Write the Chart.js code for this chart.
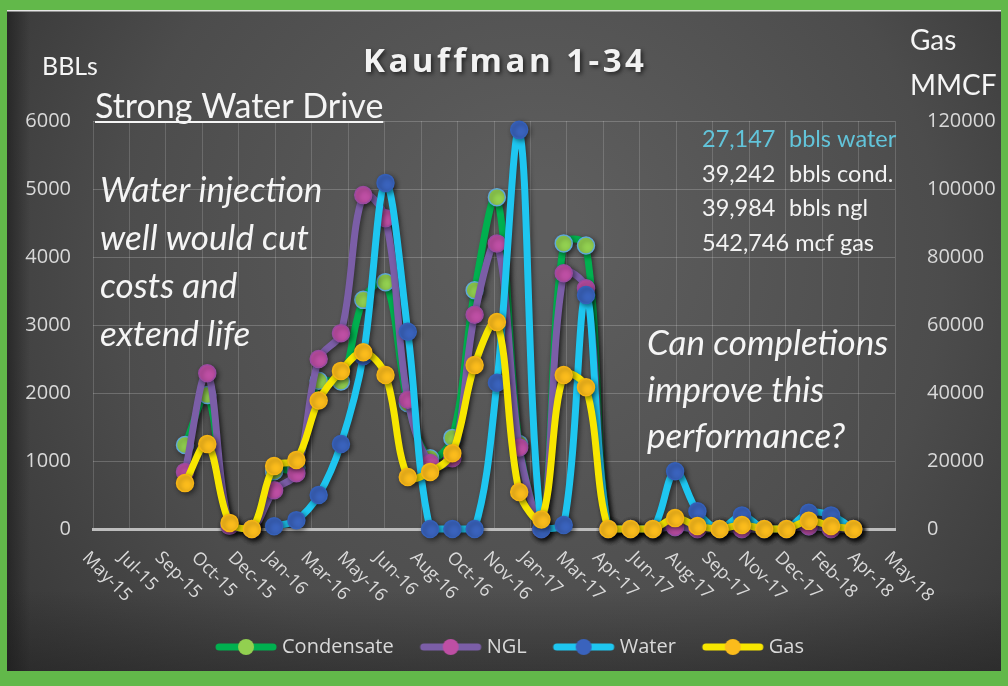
<!DOCTYPE html>
<html>
<head>
<meta charset="utf-8">
<title>Kauffman 1-34</title>
<script src="https://cdn.jsdelivr.net/npm/chart.js@4.4.1/dist/chart.umd.min.js"></script>
<style>
  html, body { margin: 0; padding: 0; background: #62b84a; }
  #wrap { position: relative; width: 1008px; height: 686px; }
</style>
</head>
<body>
<div id="wrap"><canvas id="prodChart" width="1008" height="686"></canvas></div>
<script>
// ===================
// Data (monthly, Sep-15 .. Mar-18)
// ===================
const firstMonth = 4; // months after May-15
const condensate = [1235, 1970, 50, 0, 850, 900, 2180, 2170, 3370, 3630, 1850, 1040, 1340, 3510, 4880, 1250, 0, 4200, 4170, 0, 0, 0, 30, 0, 0, 0, 0, 0, 40, 0, 0];
const ngl = [840, 2290, 50, 0, 570, 820, 2500, 2880, 4910, 4570, 1900, 970, 1040, 3150, 4200, 1200, 0, 3760, 3540, 0, 0, 0, 30, 0, 0, 0, 0, 0, 40, 0, 0];
const water = [null, null, null, null, 40, 130, 500, 1250, 2540, 5090, 2900, 0, 0, 0, 2150, 5870, 0, 60, 3440, 0, 0, 0, 850, 260, 0, 200, 0, 0, 240, 200, 0];
const gas = [13500, 25000, 1800, 0, 18500, 20300, 37800, 46500, 52000, 45300, 15300, 16800, 22300, 48200, 60900, 10900, 2800, 45300, 41700, 0, 0, 0, 3200, 900, 0, 1200, 0, 0, 2400, 900, 0];

const xTickLabels = ["May-15", "Jul-15", "Sep-15", "Oct-15", "Dec-15", "Jan-16", "Mar-16", "May-16", "Jun-16", "Aug-16", "Oct-16", "Nov-16", "Jan-17", "Mar-17", "Apr-17", "Jun-17", "Aug-17", "Sep-17", "Nov-17", "Dec-17", "Feb-18", "Apr-18", "May-18"];
const xMin = -0.13;
const xMax = 35.87;

const totals = [
  ["27,147", "bbls water"],
  ["39,242", "bbls cond."],
  ["39,984", "bbls ngl"],
  ["542,746 mcf gas", ""],
];

const toPoints = (arr) => arr.map((v, i) => ({ x: firstMonth + i, y: v }));

// legend marker: line with dot
function legendMarker(lineColor, dotColor) {
  const c = document.createElement("canvas");
  c.width = 64;
  c.height = 20;
  const g = c.getContext("2d");
  g.strokeStyle = lineColor;
  g.lineWidth = 7;
  g.lineCap = "round";
  g.beginPath();
  g.moveTo(5, 10);
  g.lineTo(59, 10);
  g.stroke();
  g.fillStyle = dotColor;
  g.beginPath();
  g.arc(32, 10, 8, 0, Math.PI * 2);
  g.fill();
  return c;
}

// ===================
// Plugins
// ===================
const backgroundPlugin = {
  id: "background",
  beforeDraw(chart) {
    const ctx = chart.ctx;
    ctx.save();
    ctx.fillStyle = "#62b84a";
    ctx.fillRect(0, 0, 1008, 686);
    const g = ctx.createRadialGradient(540, 230, 40, 520, 300, 720);
    g.addColorStop(0, "#5e5e5e");
    g.addColorStop(0.55, "#4c4c4c");
    g.addColorStop(1, "#2e2e2e");
    ctx.fillStyle = g;
    ctx.fillRect(7, 11, 994, 660);
    const lg = ctx.createLinearGradient(7, 0, 30, 0);
    lg.addColorStop(0, "rgba(30,30,30,0.7)");
    lg.addColorStop(1, "rgba(30,30,30,0)");
    ctx.fillStyle = lg;
    ctx.fillRect(7, 11, 23, 660);
    const bg = ctx.createLinearGradient(0, 590, 0, 671);
    bg.addColorStop(0, "rgba(30,30,30,0)");
    bg.addColorStop(1, "rgba(30,30,30,0.45)");
    ctx.fillStyle = bg;
    ctx.fillRect(7, 590, 994, 81);
    ctx.fillStyle = "#e6e6e6";
    ctx.fillRect(7, 10, 994, 1.5);
    ctx.restore();
  },
};

const shadowPlugin = {
  id: "lineShadow",
  beforeDatasetsDraw(chart) {
    const ctx = chart.ctx;
    ctx.save();
    ctx.shadowColor = "rgba(0,0,0,0.45)";
    ctx.shadowBlur = 5;
    ctx.shadowOffsetX = 2;
    ctx.shadowOffsetY = 2;
  },
  afterDatasetsDraw(chart) {
    chart.ctx.restore();
  },
};

const textPlugin = {
  id: "texts",
  afterDraw(chart) {
    const ctx = chart.ctx;
    const xs = chart.scales.x;
    ctx.save();

    // x labels, rotated down-right
    ctx.fillStyle = "#d9d9d9";
    ctx.font = '18px "Open Sans"';
    ctx.textAlign = "left";
    ctx.textBaseline = "middle";
    xs.ticks.forEach((t, i) => {
      const px = xs.getPixelForValue(t.value);
      ctx.save();
      ctx.translate(px - 8, 555);
      ctx.rotate(Math.PI / 4);
      ctx.fillText(xTickLabels[i], 0, 0);
      ctx.restore();
    });

    ctx.textBaseline = "alphabetic";

    // title
    ctx.save();
    ctx.shadowColor = "rgba(0,0,0,0.6)";
    ctx.shadowBlur = 4;
    ctx.shadowOffsetX = 2;
    ctx.shadowOffsetY = 2;
    ctx.fillStyle = "#f2f2f2";
    ctx.font = 'bold 33px "Open Sans"';
    ctx.letterSpacing = "3.5px";
    ctx.fillText("Kauffman 1-34", 363, 72);
    ctx.restore();

    ctx.fillStyle = "#f5f5f5";
    // axis titles
    ctx.font = "25px Lato";
    ctx.fillText("BBLs", 42, 75);
    ctx.font = "28px Lato";
    ctx.fillText("Gas", 910, 50);
    ctx.fillText("MMCF", 910, 95);

    // notes
    ctx.font = "34px Lato";
    ctx.fillText("Strong Water Drive", 95, 118);
    const w = ctx.measureText("Strong Water Drive").width;
    ctx.fillRect(95, 121, w, 2);

    ctx.font = "italic 35px Lato";
    ["Water injection", "well would cut", "costs and", "extend life"].forEach((s, i) => {
      ctx.fillText(s, 100, 202 + i * 48);
    });
    ["Can completions", "improve this", "performance?"].forEach((s, i) => {
      ctx.fillText(s, 647, 355 + i * 46.5);
    });

    // totals
    ctx.font = "23.5px Lato";
    totals.forEach((row, i) => {
      ctx.fillStyle = i === 0 ? "#62c4da" : "#f2f2f2";
      const y = 147 + i * 34.5;
      ctx.fillText(row[0], 702, y);
      if (row[1]) ctx.fillText(row[1], 789, y);
    });

    ctx.restore();
  },
};

// ===================
// Chart
// ===================
const series = [
  { label: "Condensate", data: condensate, line: "#00b04f", dot: "#92d050", dotBorder: "#5fa8d8", axis: "y", order: 4 },
  { label: "NGL", data: ngl, line: "#7b5ea7", dot: "#be4fa4", dotBorder: "#9a4aa0", axis: "y", order: 3 },
  { label: "Water", data: water, line: "#1ec6f0", dot: "#3a63bd", dotBorder: "#3560b8", axis: "y", order: 2 },
  { label: "Gas", data: gas, line: "#f7e600", dot: "#fbbc1c", dotBorder: "#f5b414", axis: "y1", order: 1 },
];

new Chart(document.getElementById("prodChart"), {
  type: "line",
  data: {
    datasets: series.map((s) => ({
      label: s.label,
      data: toPoints(s.data),
      yAxisID: s.axis,
      order: s.order,
      borderColor: s.line,
      borderWidth: 7,
      tension: 0.35,
      pointRadius: 8.5,
      pointBackgroundColor: s.dot,
      pointBorderColor: s.dotBorder,
      pointBorderWidth: 1.5,
      clip: false,
      fill: false,
    })),
  },
  options: {
    responsive: false,
    animation: false,
    layout: { padding: { top: 121, bottom: 19, left: 16, right: 0 } },
    scales: {
      x: {
        type: "linear",
        min: xMin,
        max: xMax,
        afterBuildTicks: (scale) => {
          const n = xTickLabels.length;
          scale.ticks = xTickLabels.map((label, i) => ({
            value: xMin + (i * (xMax - xMin)) / (n - 1),
          }));
        },
        afterFit: (scale) => {
          scale.height = 77;
        },
        ticks: { display: false },
        grid: { color: "rgba(255,255,255,0.16)", drawTicks: false },
        border: { display: true, color: "#bdbdbd", width: 3 },
      },
      y: {
        position: "left",
        min: 0,
        max: 6000,
        afterFit: (scale) => {
          scale.width = 77;
        },
        ticks: {
          stepSize: 1000,
          padding: 22,
          color: "#d9d9d9",
          font: { family: "Open Sans", size: 20 },
          callback: (v) => String(v),
        },
        grid: { color: "rgba(255,255,255,0.2)", drawTicks: false },
        border: { display: false },
      },
      y1: {
        position: "right",
        min: 0,
        max: 120000,
        afterFit: (scale) => {
          scale.width = 113;
        },
        ticks: {
          stepSize: 20000,
          padding: 24,
          color: "#d9d9d9",
          font: { family: "Open Sans", size: 20 },
          callback: (v) => String(v),
        },
        grid: { display: false },
        border: { display: false },
      },
    },
    plugins: {
      title: { display: false },
      tooltip: { enabled: false },
      legend: {
        position: "bottom",
        labels: {
          color: "#d9d9d9",
          font: { family: "Open Sans", size: 20 },
          usePointStyle: true,
          pointStyleWidth: 52,
          padding: 31,
          generateLabels: (chart) =>
            chart.data.datasets.map((ds, i) => ({
              text: ds.label,
              pointStyle: legendMarker(ds.borderColor, ds.pointBackgroundColor),
              fillStyle: ds.pointBackgroundColor,
              strokeStyle: ds.borderColor,
              lineWidth: 0,
              fontColor: "#d9d9d9",
              hidden: false,
              datasetIndex: i,
            })),
        },
      },
    },
  },
  plugins: [backgroundPlugin, shadowPlugin, textPlugin],
});
</script>
</body>
</html>
